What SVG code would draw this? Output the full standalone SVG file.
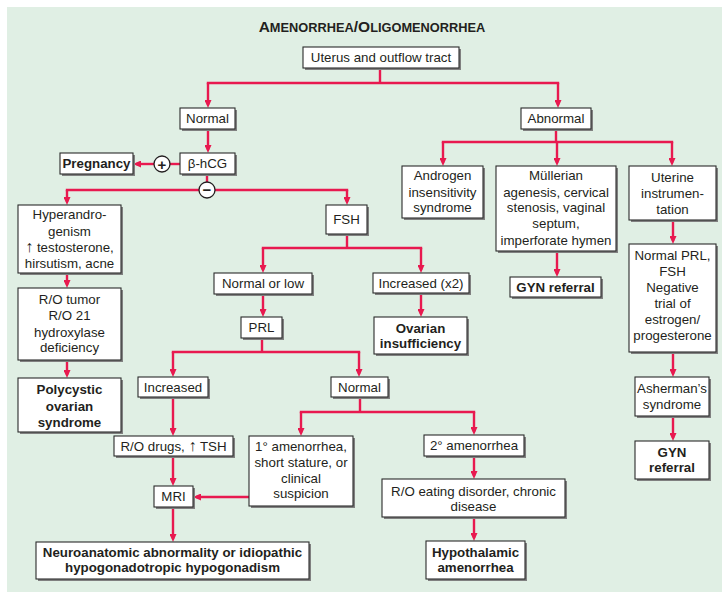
<svg xmlns="http://www.w3.org/2000/svg" width="722" height="593" viewBox="0 0 722 593">
<defs>
<style>
.bg{fill:#e0efe4}
.sh{fill:#808080}
.bx{fill:#ffffff;stroke:#2b2b2b;stroke-width:1.1}
text{font-family:"Liberation Sans",Arial,sans-serif;font-size:13.3px;fill:#231f20;text-anchor:middle}
.b{font-weight:bold}
.ttl{font-weight:bold}
.up{font-size:16px}
#conn path{fill:none;stroke:#e8194f;stroke-width:2.4;stroke-linecap:square}
#conn path.a{stroke-linecap:butt;marker-end:url(#ah)}
.cir{fill:#ffffff;stroke:#231f20;stroke-width:1.3}
.sym{font-weight:bold;font-size:15px}
</style>
<marker id="ah" viewBox="0 0 8 7" refX="5" refY="3.5" markerWidth="8" markerHeight="7" markerUnits="userSpaceOnUse" orient="auto">
<path d="M0,0L8,3.5L0,7z" fill="#e8194f"/>
</marker>
</defs>
<rect class="bg" x="7" y="7" width="715" height="585"/>
<text class="ttl" x="372" y="32"><tspan font-size="15.5">A</tspan><tspan font-size="12.8">MENORRHEA</tspan><tspan font-size="15.5">/O</tspan><tspan font-size="12.8">LIGOMENORRHEA</tspan></text>

<g id="conn">
<path d="M380,68V83M208,83H558"/>
<path class="a" d="M208,83V105"/>
<path class="a" d="M558,83V105"/>
<path class="a" d="M208,129V150"/>
<path d="M180,164H170"/>
<path class="a" d="M154,164H136"/>
<path d="M207,174V182"/>
<path d="M67,190H347"/>
<path class="a" d="M67,190V202"/>
<path class="a" d="M347,190V202"/>
<path class="a" d="M67,273V285"/>
<path class="a" d="M67,360V375"/>
<path d="M347,234V248M263,248H421"/>
<path class="a" d="M263,248V270"/>
<path class="a" d="M421,248V270"/>
<path class="a" d="M263,294V314"/>
<path class="a" d="M421,293V314"/>
<path d="M262,338V352M173,352H359"/>
<path class="a" d="M173,352V374"/>
<path class="a" d="M359,352V374"/>
<path class="a" d="M173,397V433"/>
<path class="a" d="M173,456V483"/>
<path class="a" d="M173,507V539"/>
<path d="M360,397V412M301,412H474"/>
<path class="a" d="M301,412V433"/>
<path class="a" d="M474,412V432"/>
<path class="a" d="M249,497H196"/>
<path class="a" d="M474,456V476"/>
<path class="a" d="M474,517V538"/>
<path d="M556,129V142M443,142H672"/>
<path class="a" d="M443,142V163"/>
<path class="a" d="M557,142V163"/>
<path class="a" d="M672,142V163"/>
<path class="a" d="M557,251V274"/>
<path class="a" d="M673,220V241"/>
<path class="a" d="M673,352V374"/>
<path class="a" d="M673,416V438"/>
</g>

<g id="uterus"><rect class="sh" x="305" y="49" width="156" height="21"/><rect class="bx" x="303" y="47" width="156" height="21"/><text x="381" y="62">Uterus and outflow tract</text></g>
<g id="normal1"><rect class="sh" x="182" y="110" width="55" height="21"/><rect class="bx" x="180" y="108" width="55" height="21"/><text x="207.5" y="123">Normal</text></g>
<g id="abnormal"><rect class="sh" x="523" y="110" width="70" height="21"/><rect class="bx" x="521" y="108" width="70" height="21"/><text x="556" y="123">Abnormal</text></g>
<g id="bhcg"><rect class="sh" x="182" y="155" width="55" height="21"/><rect class="bx" x="180" y="153" width="55" height="21"/><text x="207.5" y="168">β-hCG</text></g>
<g id="pregnancy"><rect class="sh" x="62" y="155" width="73" height="21"/><rect class="bx" x="60" y="153" width="73" height="21"/><text class="b" x="96.5" y="168">Pregnancy</text></g>
<g id="plus"><circle class="cir" cx="162" cy="164" r="8"/><text class="sym" x="162" y="169.5">+</text></g>
<g id="minus"><circle class="cir" cx="207" cy="190" r="8"/><text class="sym" x="207" y="195">−</text></g>
<g id="hyper"><rect class="sh" x="20" y="207" width="103" height="68"/><rect class="bx" x="18" y="205" width="103" height="68"/><text x="69.5" y="219">Hyperandro-</text><text x="69.5" y="235.5">genism</text><text x="69.5" y="252"><tspan class="up">↑</tspan> testosterone,</text><text x="69.5" y="268">hirsutism, acne</text></g>
<g id="rotumor"><rect class="sh" x="20" y="290" width="103" height="72"/><rect class="bx" x="18" y="288" width="103" height="72"/><text x="69.5" y="304">R/O tumor</text><text x="69.5" y="320">R/O 21</text><text x="69.5" y="336.5">hydroxylase</text><text x="69.5" y="352">deficiency</text></g>
<g id="polycystic"><rect class="sh" x="20" y="380" width="103" height="54"/><rect class="bx" x="18" y="378" width="103" height="54"/><text class="b" x="69.5" y="394">Polycystic</text><text class="b" x="69.5" y="410.5">ovarian</text><text class="b" x="69.5" y="427">syndrome</text></g>
<g id="fsh"><rect class="sh" x="328" y="207" width="41" height="29"/><rect class="bx" x="326" y="205" width="41" height="29"/><text x="346.5" y="224">FSH</text></g>
<g id="normlow"><rect class="sh" x="216" y="275" width="98" height="21"/><rect class="bx" x="214" y="273" width="98" height="21"/><text x="263" y="288">Normal or low</text></g>
<g id="incx2"><rect class="sh" x="375" y="275" width="96" height="20"/><rect class="bx" x="373" y="273" width="96" height="20"/><text x="421" y="288">Increased (x2)</text></g>
<g id="prl"><rect class="sh" x="243" y="319" width="41" height="21"/><rect class="bx" x="241" y="317" width="41" height="21"/><text x="261.5" y="332">PRL</text></g>
<g id="ovarian"><rect class="sh" x="376" y="319" width="93" height="37"/><rect class="bx" x="374" y="317" width="93" height="37"/><text class="b" x="420.5" y="333">Ovarian</text><text class="b" x="420.5" y="348">insufficiency</text></g>
<g id="increased"><rect class="sh" x="140" y="379" width="70" height="20"/><rect class="bx" x="138" y="377" width="70" height="20"/><text x="173" y="392">Increased</text></g>
<g id="normal2"><rect class="sh" x="333" y="379" width="57" height="20"/><rect class="bx" x="331" y="377" width="57" height="20"/><text x="359.5" y="392">Normal</text></g>
<g id="rodrugs"><rect class="sh" x="116" y="438" width="119" height="20"/><rect class="bx" x="114" y="436" width="119" height="20"/><text x="173.5" y="451">R/O drugs, <tspan class="up">↑</tspan> TSH</text></g>
<g id="primary"><rect class="sh" x="251" y="438" width="104" height="70"/><rect class="bx" x="249" y="436" width="104" height="70"/><text x="301" y="451">1° amenorrhea,</text><text x="301" y="467">short stature, or</text><text x="301" y="483">clinical</text><text x="301" y="498">suspicion</text></g>
<g id="mri"><rect class="sh" x="156" y="488" width="39" height="21"/><rect class="bx" x="154" y="486" width="39" height="21"/><text x="173.5" y="501">MRI</text></g>
<g id="neuro"><rect class="sh" x="38" y="544" width="273" height="37"/><rect class="bx" x="36" y="542" width="273" height="37"/><text class="b" x="172.5" y="557">Neuroanatomic abnormality or idiopathic</text><text class="b" x="172.5" y="572">hypogonadotropic hypogonadism</text></g>
<g id="secondary"><rect class="sh" x="426" y="437" width="100" height="21"/><rect class="bx" x="424" y="435" width="100" height="21"/><text x="474" y="450">2° amenorrhea</text></g>
<g id="roeating"><rect class="sh" x="384" y="481" width="183" height="38"/><rect class="bx" x="382" y="479" width="183" height="38"/><text x="473.5" y="496">R/O eating disorder, chronic</text><text x="473.5" y="511">disease</text></g>
<g id="hypoth"><rect class="sh" x="428" y="543" width="99" height="38"/><rect class="bx" x="426" y="541" width="99" height="38"/><text class="b" x="475.5" y="557">Hypothalamic</text><text class="b" x="475.5" y="572">amenorrhea</text></g>
<g id="androgen"><rect class="sh" x="404" y="168" width="81" height="52"/><rect class="bx" x="402" y="166" width="81" height="52"/><text x="442.5" y="180">Androgen</text><text x="442.5" y="196.5">insensitivity</text><text x="442.5" y="212">syndrome</text></g>
<g id="mullerian"><rect class="sh" x="498" y="168" width="120" height="85"/><rect class="bx" x="496" y="166" width="120" height="85"/><text x="556" y="180">Müllerian</text><text x="556" y="196.5">agenesis, cervical</text><text x="556" y="212">stenosis, vaginal</text><text x="556" y="228">septum,</text><text x="556" y="245">imperforate hymen</text></g>
<g id="gyn1"><rect class="sh" x="512" y="279" width="91" height="20"/><rect class="bx" x="510" y="277" width="91" height="20"/><text class="b" x="555.5" y="292">GYN referral</text></g>
<g id="uterine"><rect class="sh" x="631" y="168" width="87" height="54"/><rect class="bx" x="629" y="166" width="87" height="54"/><text x="672.5" y="182">Uterine</text><text x="672.5" y="198">instrumen-</text><text x="672.5" y="214">tation</text></g>
<g id="normprl"><rect class="sh" x="631" y="246" width="87" height="108"/><rect class="bx" x="629" y="244" width="87" height="108"/><text x="672.5" y="260">Normal PRL,</text><text x="672.5" y="276">FSH</text><text x="672.5" y="292">Negative</text><text x="672.5" y="308">trial of</text><text x="672.5" y="324">estrogen/</text><text x="672.5" y="340">progesterone</text></g>
<g id="asherman"><rect class="sh" x="637" y="379" width="74" height="39"/><rect class="bx" x="635" y="377" width="74" height="39"/><text x="672" y="393">Asherman’s</text><text x="672" y="409">syndrome</text></g>
<g id="gyn2"><rect class="sh" x="637" y="443" width="74" height="38"/><rect class="bx" x="635" y="441" width="74" height="38"/><text class="b" x="672" y="457">GYN</text><text class="b" x="672" y="472">referral</text></g>
</svg>
